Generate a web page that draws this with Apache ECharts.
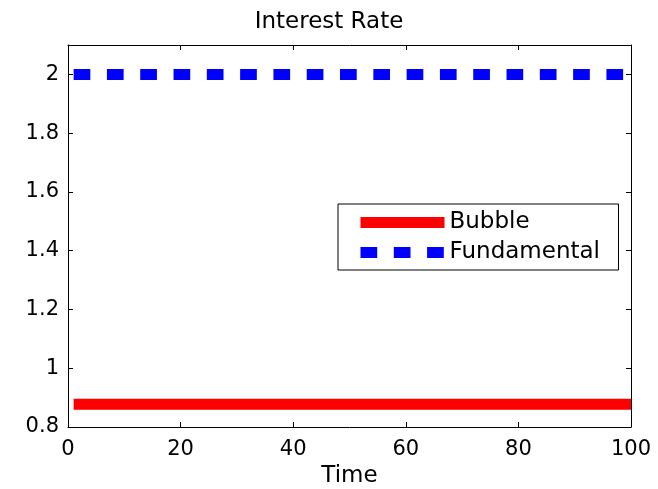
<!DOCTYPE html>
<html>
<head>
<meta charset="utf-8">
<script src="https://cdn.jsdelivr.net/npm/echarts@6/dist/echarts.min.js"></script>
<style>html,body{margin:0;padding:0;background:#fff}#c{width:658px;height:489px}</style>
</head>
<body>
<div id="c"></div>
<script>
var time = [1,2,3,4,5,6,7,8,9,10,11,12,13,14,15,16,17,18,19,20,21,22,23,24,25,26,27,28,29,30,31,32,33,34,35,36,37,38,39,40,41,42,43,44,45,46,47,48,49,50,51,52,53,54,55,56,57,58,59,60,61,62,63,64,65,66,67,68,69,70,71,72,73,74,75,76,77,78,79,80,81,82,83,84,85,86,87,88,89,90,91,92,93,94,95,96,97,98,99,100];
var bubble = [0.877,0.877,0.877,0.877,0.877,0.877,0.877,0.877,0.877,0.877,0.877,0.877,0.877,0.877,0.877,0.877,0.877,0.877,0.877,0.877,0.877,0.877,0.877,0.877,0.877,0.877,0.877,0.877,0.877,0.877,0.877,0.877,0.877,0.877,0.877,0.877,0.877,0.877,0.877,0.877,0.877,0.877,0.877,0.877,0.877,0.877,0.877,0.877,0.877,0.877,0.877,0.877,0.877,0.877,0.877,0.877,0.877,0.877,0.877,0.877,0.877,0.877,0.877,0.877,0.877,0.877,0.877,0.877,0.877,0.877,0.877,0.877,0.877,0.877,0.877,0.877,0.877,0.877,0.877,0.877,0.877,0.877,0.877,0.877,0.877,0.877,0.877,0.877,0.877,0.877,0.877,0.877,0.877,0.877,0.877,0.877,0.877,0.877,0.877,0.877];
var fundamental = [2,2,2,2,2,2,2,2,2,2,2,2,2,2,2,2,2,2,2,2,2,2,2,2,2,2,2,2,2,2,2,2,2,2,2,2,2,2,2,2,2,2,2,2,2,2,2,2,2,2,2,2,2,2,2,2,2,2,2,2,2,2,2,2,2,2,2,2,2,2,2,2,2,2,2,2,2,2,2,2,2,2,2,2,2,2,2,2,2,2,2,2,2,2,2,2,2,2,2,2];
var seriesNames = ['Bubble', 'Fundamental'];
var titleText = 'Interest Rate';
var xName = 'Time';

function pairs(xs, ys) { return xs.map(function (x, i) { return [x, ys[i]]; }); }

var FONT = 'DejaVu Sans, Liberation Sans, Arial, sans-serif';
var axisCommon = {
  axisLine: { show: true, onZero: false, lineStyle: { color: '#000', width: 1 } },
  axisTick: { show: true, inside: true, length: 5, lineStyle: { color: '#000', width: 1 } },
  splitLine: { show: false }
};

var chart = echarts.init(document.getElementById('c'), null, { renderer: 'canvas' });
chart.setOption({
  animation: false,
  backgroundColor: '#fff',
  title: {
    text: titleText, left: 'center', top: 11, padding: 0,
    textStyle: { fontFamily: FONT, fontSize: 23, fontWeight: 'normal', color: '#000' }
  },
  grid: { left: 68, right: 27, top: 45, bottom: 62, containLabel: false, outerBoundsMode: 'none' },
  legend: {
    orient: 'vertical', left: 338, top: 204,
    padding: [7, 9, 6, 17], itemGap: 7, itemTextGap: 9,
    itemWidth: 84, itemHeight: 11,
    borderColor: '#000', borderWidth: 1, backgroundColor: '#fff',
    lineStyle: { width: 11 },
    textStyle: { fontFamily: FONT, fontSize: 23, lineHeight: 22, color: '#000', width: 160 },
    data: seriesNames
  },
  xAxis: [
    Object.assign({}, axisCommon, {
      type: 'value', min: 0, max: 100, interval: 20, position: 'bottom',
      name: xName, nameLocation: 'middle', nameGap: 34,
      nameTextStyle: { fontFamily: FONT, fontSize: 23, color: '#000' },
      axisLabel: { fontFamily: FONT, fontSize: 21, color: '#000', margin: 12 }
    }),
    Object.assign({}, axisCommon, {
      type: 'value', min: 0, max: 100, interval: 20, position: 'top',
      axisLabel: { show: false }
    })
  ],
  yAxis: [
    Object.assign({}, axisCommon, {
      type: 'value', min: 0.8, max: 2.1, interval: 0.2, position: 'left',
      axisLabel: { fontFamily: FONT, fontSize: 21, color: '#000', margin: 9, showMaxLabel: false,
        padding: [3, 0, 0, 0],
        formatter: function (v) { return Math.abs(v - 2.1) < 1e-6 ? '' : String(Math.round(v * 10) / 10); } }
    }),
    Object.assign({}, axisCommon, {
      type: 'value', min: 0.8, max: 2.1, interval: 0.2, position: 'right',
      axisLabel: { show: false }
    })
  ],
  series: [
    {
      name: seriesNames[0], type: 'line', data: pairs(time, bubble),
      xAxisIndex: 0, yAxisIndex: 0, symbol: 'none', showSymbol: false,
      itemStyle: { color: '#ff0000' },
      lineStyle: { color: '#ff0000', width: 11, type: 'solid', cap: 'butt' }
    },
    {
      name: seriesNames[1], type: 'line', data: pairs(time, fundamental),
      xAxisIndex: 0, yAxisIndex: 0, symbol: 'none', showSymbol: false,
      itemStyle: { color: '#0000ff' },
      lineStyle: { color: '#0000ff', width: 11, type: [16.7, 16.6], cap: 'butt' }
    }
  ]
});
</script>
</body>
</html>
